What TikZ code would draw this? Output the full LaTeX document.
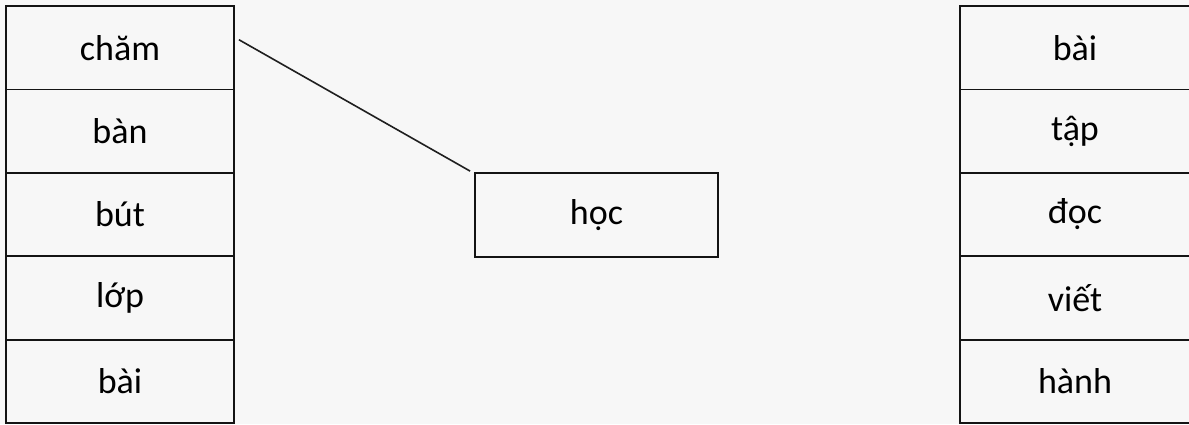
\documentclass[tikz,border=0pt]{standalone}
\usepackage{fontspec}
\setmainfont{Carlito}
\begin{document}
\begin{tikzpicture}[x=1pt,y=-1pt,
  ink/.style={draw=black!92,line width=1.8pt},
  cell/.style={ink,rectangle,minimum width=228pt,minimum height=83.4pt,inner sep=0pt,
    font=\fontsize{36}{40}\selectfont,text=black},
  rcell/.style={cell,minimum width=230pt},
  midbox/.style={ink,rectangle,minimum width=243pt,minimum height=84pt,inner sep=0pt,
    font=\fontsize{36}{40}\selectfont,text=black},
  link/.style={draw=black!88,line width=1.6pt}]
\fill[black!3] (0,0) rectangle (1189,424);
\useasboundingbox (0,0) rectangle (1189,424);
% left column
\node[cell] (cham) at (120,47.7) {chăm};
\node[cell] (ban)  at (120,131.1) {bàn};
\node[cell] (but)  at (120,214.5) {bút};
\node[cell] (lop)  at (120,297.9) {lớp};
\node[cell] (bai)  at (120,381.3) {bài};
% right column
\node[rcell] (rbai)  at (1075,47.7) {bài};
\node[rcell] (tap)   at (1075,131.1) {tập};
\node[rcell] (doc)   at (1075,214.5) {đọc};
\node[rcell] (viet)  at (1075,297.9) {viết};
\node[rcell] (hanh)  at (1075,381.3) {hành};
% middle
\node[midbox] (hoc) at (596.5,215) {học};
% connector
\draw[link] ([xshift=4pt,yshift=8pt]cham.east) -- ([xshift=-4pt,yshift=1pt]hoc.north west);
\end{tikzpicture}
\end{document}
